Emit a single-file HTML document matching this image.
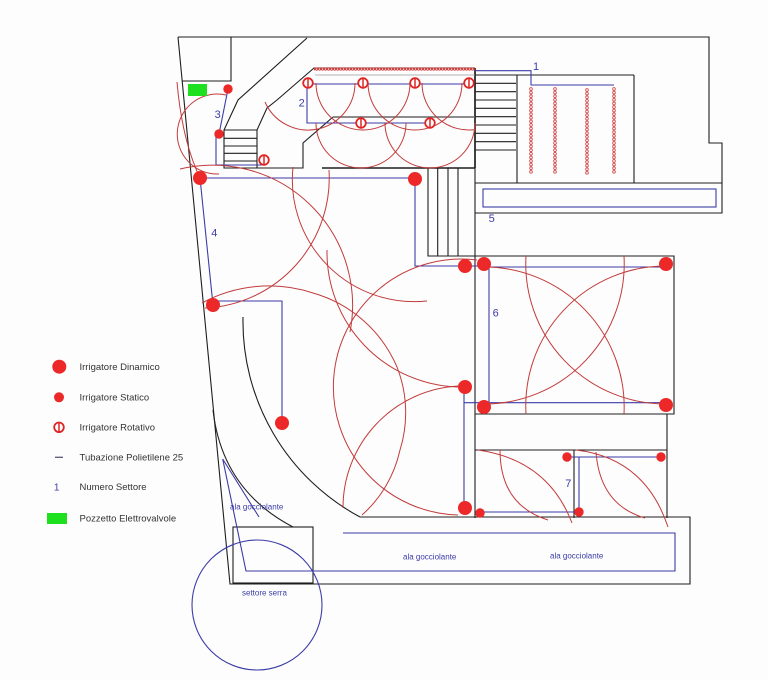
<!DOCTYPE html>
<html><head><meta charset="utf-8"><style>
html,body{margin:0;padding:0;background:#fdfdfd;}
svg{display:block;}
text{font-family:"Liberation Sans",Arial,sans-serif;}
</style></head><body>
<svg width="768" height="680" viewBox="0 0 768 680" xmlns="http://www.w3.org/2000/svg">
<defs>
<pattern id="drip" patternUnits="userSpaceOnUse" x="-2" y="-1.8" width="4" height="3.6">
<circle cx="2" cy="1.8" r="1.35" fill="none" stroke="#d04545" stroke-width="0.8"/>
</pattern>
<pattern id="saw" patternUnits="userSpaceOnUse" x="0" y="67" width="3" height="4">
<circle cx="1.5" cy="2" r="1.2" fill="none" stroke="#d03030" stroke-width="0.9"/>
</pattern>
<g id="rot"><circle r="4.8" fill="#fff" stroke="#e02424" stroke-width="1.8"/><line x1="0" y1="-5" x2="0" y2="5" stroke="#e02424" stroke-width="1.5"/></g>
</defs>
<rect width="768" height="680" fill="#fdfdfd"/>

<!-- black structure -->
<g fill="none" stroke="#1e1e1e" stroke-width="1.1">
<path d="M178,37 L709,37 L709,143 L722,143 L722,213 L475,213"/>
<path d="M178,37 L230,584 L690,584 L690,517 L360,517"/>
<path d="M182,81 L231,81 L231,37"/>
<path d="M307,38 L238,100 L224,130 L224,168 L303,168 L303,143 L333,117"/>
<path d="M224,130 L257,130 L257,168"/>
<path d="M224,138.3 H257 M224,146 H257 M224,153.3 H257 M224,161 H257"/>
<path d="M257,130 L267,108 L277,100 L314,68 L475,68"/>
<path d="M322,168 L475,168" stroke-width="1.5"/>
<path d="M475,68 V168" stroke-width="1.7"/>
<path d="M475,168 V518"/>
<path d="M475,75 H634 M475,83.3 H516 M475,91.7 H516 M475,100 H516 M475,108.3 H516 M475,116.7 H516 M475,125 H516 M475,133.3 H516 M475,141.7 H516 M475,150 H516"/>
<path d="M517,75 V183 M634,75 V183 M475,183 H722"/>
<path d="M428,168 V256 H475 M437.7,168 V256 M448,168 V256 M458,168 V256"/>
<path d="M475,256 H674 V414 H475"/>
<path d="M475,450 H667 M667,414 V518 M574,450 V518"/>
<path d="M243,317 A222,222 0 0 0 360,517"/>
<path d="M213,410 Q222,490 293,527"/>
<rect x="233" y="527" width="80" height="56"/>
</g>
<path d="M333,117 H475" stroke="#666" stroke-width="1.6" fill="none"/>
<path d="M315,75 H475" stroke="#999" stroke-width="0.8" fill="none"/>
<rect x="314" y="67" width="161" height="4" fill="url(#saw)"/>

<!-- drip columns -->
<g transform="translate(531,89)"><rect x="-2" y="-1.8" width="4" height="86.4" fill="url(#drip)"/></g>
<g transform="translate(555,89)"><rect x="-2" y="-1.8" width="4" height="86.4" fill="url(#drip)"/></g>
<g transform="translate(587,90)"><rect x="-2" y="-1.8" width="4" height="86.4" fill="url(#drip)"/></g>
<g transform="translate(614,89)"><rect x="-2" y="-1.8" width="4" height="86.4" fill="url(#drip)"/></g>

<!-- blue pipes -->
<g fill="none" stroke="#3c3ca8" stroke-width="1.1">
<path d="M475,70.7 H531 V85 H614"/>
<path d="M308,84 H469 M307,84 V123 H430"/>
<path d="M228,89 L219,134 L216,136 L216,165 L262,165"/>
<path d="M200,178 H415 V266 H484"/>
<path d="M200,178 L213,305 M213,301 H282 V423"/>
<path d="M464,387 V508 M464,402.7 H660"/>
<path d="M484,267 H667 M489,267 V402"/>
<path d="M567,457 H661 M579,457 V512 H480"/>
<path d="M259,517 L222.7,459 L246,571 H675 V533 H343"/>
<rect x="483" y="189" width="233" height="18"/>
<circle cx="257" cy="605" r="65"/>
</g>

<!-- red throw arcs -->
<g fill="none" stroke="#c23b3b" stroke-width="1">
<path d="M265,102 A47,47 0 0 0 355,83"/>
<path d="M316,83 A47,47 0 0 0 410,83"/>
<path d="M368,83 A47,47 0 0 0 462,83"/>
<path d="M422,83 A47,47 0 0 0 476,129.5"/>
<path d="M316,123 A45,45 0 0 0 406,123"/>
<path d="M385,123 A45,45 0 0 0 475,123"/>
<path d="M226,95 A40,40 0 1 0 219,174"/>
<path d="M177,82 Q182,140 200,178"/>
<path d="M329,170 A130,130 0 0 1 205,308"/>
<path d="M293,167 A122,122 0 0 0 427,301"/>
<path d="M180,169 A140,140 0 0 1 350,332"/>
<path d="M327,250 A135,135 0 0 0 458,387"/>
<path d="M477,260 A128,128 0 1 0 458,515"/>
<path d="M343,508 A122,122 0 0 1 458,386"/>
<path d="M202,303 A140,140 0 0 1 313,293 A130,130 0 0 1 397,367 A125,125 0 0 1 400,450 A122,122 0 0 1 362,515"/>
<path d="M526,256 A140,140 0 0 0 666,404"/>
<path d="M526,414 A140,140 0 0 1 666,266"/>
<path d="M624,256 A140,140 0 0 1 484,404"/>
<path d="M624,414 A140,140 0 0 0 484,267"/>
<path d="M478,450 Q548,460 572,523"/>
<path d="M500,450 Q500,505 548,520"/>
<path d="M576,450 Q645,458 668,527"/>
<path d="M596,452 Q600,505 645,518"/>
</g>

<!-- sprinklers -->
<g fill="#ec2828">
<circle cx="200" cy="178" r="7"/><circle cx="415" cy="179" r="7"/>
<circle cx="213" cy="305" r="7"/><circle cx="282" cy="423" r="7"/>
<circle cx="465" cy="266" r="7"/><circle cx="465" cy="387" r="7"/>
<circle cx="465" cy="508" r="7"/><circle cx="484" cy="264" r="7"/>
<circle cx="666" cy="264" r="7"/><circle cx="484" cy="407" r="7"/>
<circle cx="666" cy="405" r="7"/><circle cx="59.3" cy="366.7" r="7"/>
<circle cx="228" cy="89" r="4.7"/><circle cx="219" cy="134" r="4.7"/>
<circle cx="567" cy="457" r="4.7"/><circle cx="661" cy="457" r="4.7"/>
<circle cx="480" cy="513" r="4.7"/><circle cx="579" cy="512" r="4.7"/>
<circle cx="59" cy="397.3" r="5"/>
</g>
<use href="#rot" x="264" y="160"/>
<use href="#rot" x="308" y="83"/>
<use href="#rot" x="363" y="83"/>
<use href="#rot" x="415" y="83"/>
<use href="#rot" x="469" y="83"/>
<use href="#rot" x="361" y="123"/>
<use href="#rot" x="430" y="123"/>
<use href="#rot" x="59" y="427.3"/>

<!-- green boxes -->
<rect x="188" y="84" width="19" height="12" fill="#1fe01f"/>
<rect x="47" y="513" width="20" height="11" fill="#1fe01f"/>
<line x1="55" y1="457.3" x2="63" y2="457.3" stroke="#555577" stroke-width="1.3"/>

<!-- zone labels -->
<g fill="#3c3ca8" font-size="11" text-anchor="middle">
<text x="536" y="69.8">1</text>
<text x="301.7" y="106.5">2</text>
<text x="217.7" y="117.8">3</text>
<text x="214.3" y="236.5">4</text>
<text x="491.7" y="222">5</text>
<text x="495.7" y="316.5">6</text>
<text x="568.3" y="487">7</text>
</g>
<text x="56.7" y="490.3" fill="#3c3ca8" font-size="10" text-anchor="middle">1</text>

<g fill="#3c3ca8" font-size="8">
<text x="230" y="509.7">ala gocciolante</text>
<text x="403" y="559.7">ala gocciolante</text>
<text x="550" y="558.7">ala gocciolante</text>
<text x="242" y="595.7">settore serra</text>
</g>

<!-- legend -->
<g fill="#333" font-size="9.5">
<text x="79.5" y="370">Irrigatore Dinamico</text>
<text x="79.5" y="400.7">Irrigatore Statico</text>
<text x="79.5" y="430.7">Irrigatore Rotativo</text>
<text x="79.5" y="460.7">Tubazione Polietilene 25</text>
<text x="79.5" y="490">Numero Settore</text>
<text x="79.5" y="521.7">Pozzetto Elettrovalvole</text>
</g>
</svg>
</body></html>
